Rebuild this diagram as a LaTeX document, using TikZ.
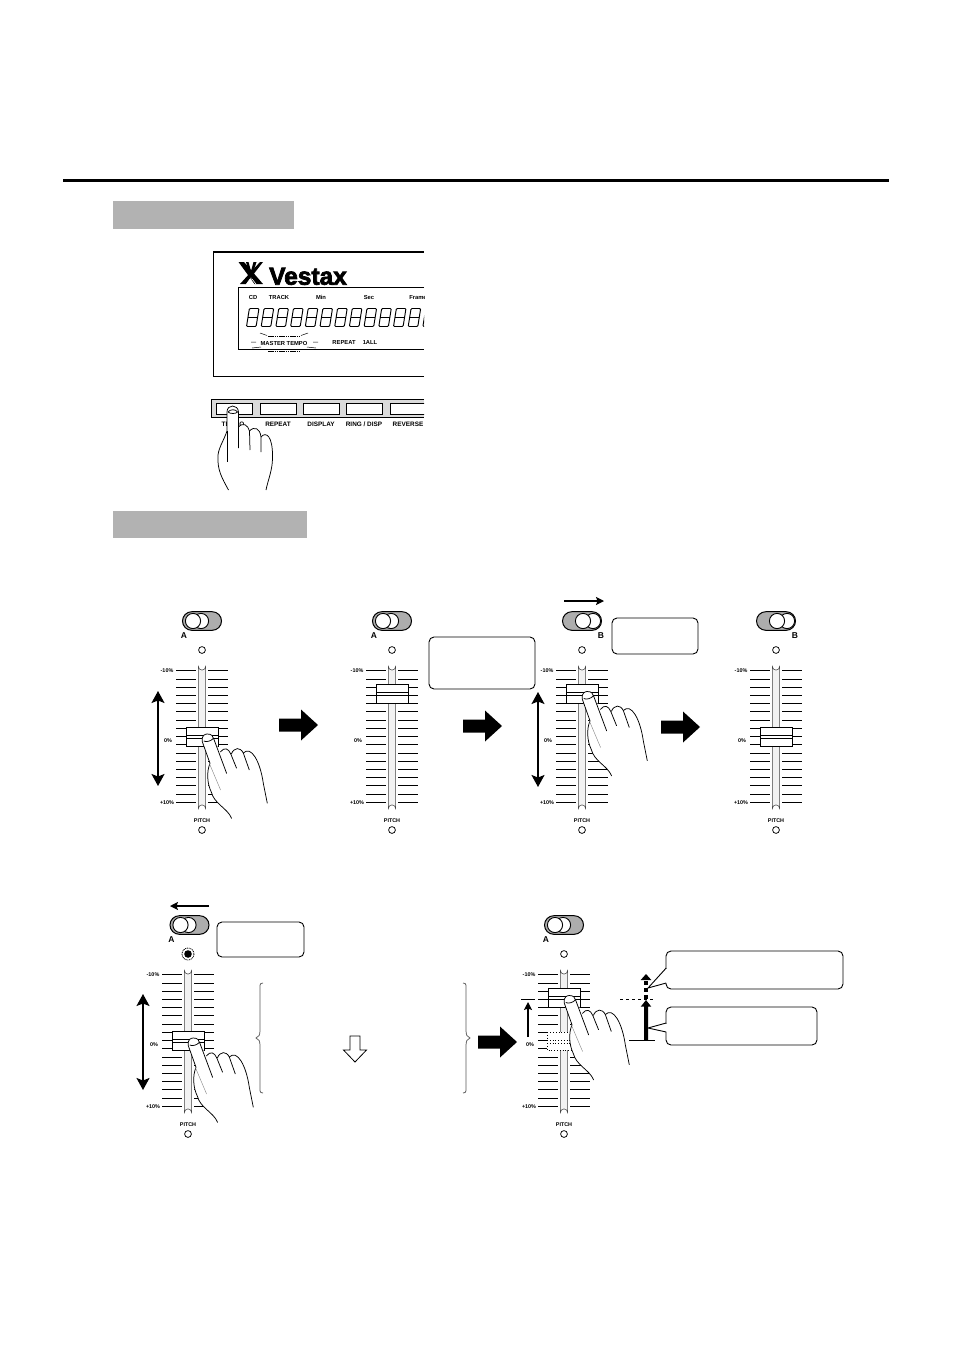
\documentclass[tikz,border=0pt]{standalone}
\usepackage{fontspec}
\setmainfont{Liberation Sans}
\newfontfamily\logofont[BoldFeatures={FakeBold=3}]{Liberation Sans}
\usetikzlibrary{arrows.meta,shapes.arrows}
\definecolor{barg}{gray}{0.70}
\definecolor{slotg}{gray}{0.95}
\definecolor{stripg}{gray}{0.86}
\definecolor{pillg}{gray}{0.68}
\tikzset{
  tiny label/.style={font=\bfseries\fontsize{5.4}{6}\selectfont,inner sep=0pt},
  panel label/.style={font=\bfseries\fontsize{5.8}{7}\selectfont,inner sep=0pt,anchor=base},
  button label/.style={font=\bfseries\fontsize{6.4}{7}\selectfont,inner sep=0pt,anchor=base},
  callout/.style={draw=black,line width=0.9pt,rounded corners=5pt,fill=white},
  hairline/.style={line width=0.75pt},
  tick/.style={line width=0.8pt},
  bigarrow/.style={fill=black},
  movearrow/.style={line width=1.4pt,-{Stealth[length=8pt,width=8pt,inset=1.5pt]}},
  bothways/.style={line width=1.5pt,{Stealth[length=12pt,width=13pt,inset=2.5pt]}-{Stealth[length=12pt,width=13pt,inset=2.5pt]}},
}
% block arrow pointing right, tail x, centre y
\newcommand{\blockarrow}[2]{%
  \fill[bigarrow,shift={(#1,#2)}] (0,-6.5) -- (22,-6.5) -- (22,-15.5) -- (39,0) -- (22,15.5) -- (22,6.5) -- (0,6.5) -- cycle;}
% pressing hand on a slider knob
\newcommand{\sliderhand}[2]{%
  \begin{scope}[shift={(#1,#2)}]
    \fill[white] (24.3,84.3) .. controls (20,74) and (7,70) .. (4,58) .. controls (0,50) and (-1,38) .. (2.7,29.3)
      -- (-5,7.7) .. controls (-6,1) and (-2,0) .. (0,0) .. controls (4,0) and (6,2) .. (6.5,5)
      -- (13,18) .. controls (17,13) and (21,14) .. (24,20) .. controls (27,13) and (33,13) .. (36,19)
      .. controls (44,11) and (53,28) .. (56,49.3) -- (60,69.3) -- cycle;
    \draw[hairline,line cap=round] (24.3,84.3) .. controls (20,74) and (7,70) .. (4,58) .. controls (0,50) and (-1,38) .. (2.7,29.3)
      -- (-5,7.7) .. controls (-6,1) and (-2,0) .. (0,0) .. controls (4,0) and (6,2) .. (6.5,5) -- (19.3,39.3);
    \draw[hairline] (-3.5,7) .. controls (-1,8.5) and (4,7) .. (6.2,4.2);
    \draw[hairline] (13,18) .. controls (17,13) and (21,14) .. (23.5,20) -- (29.3,34.3);
    \draw[hairline] (24,20) .. controls (27,13) and (33,13) .. (36,19) -- (42,36);
    \draw[hairline] (36,19) .. controls (44,11) and (53,28) .. (56,49.3) -- (60,69.3);
    \draw[gray,line width=0.4pt] (2,29.3) -- (13.3,56);
  \end{scope}}
% slider: centre x, row shift y, knob centre y
\newcommand{\sliderbody}[3]{%
  \begin{scope}[shift={(#1,#2)}]
    \foreach \i in {0,...,16} {
      \draw[tick] (-26,670.7+\i*8.22) -- (-6,670.7+\i*8.22);
      \draw[tick] (6,670.7+\i*8.22) -- (26,670.7+\i*8.22);
    }
    \draw[line width=0.5pt,draw=black!75,fill=slotg] (-3.6,666.5) arc[start angle=180,end angle=0,radius=3.6] -- (3.6,808.5) arc[start angle=0,end angle=-180,radius=3.6] -- cycle;
    \node[tiny label] at (-35,670.7) {-10\%};
    \node[tiny label] at (-34,741) {0\%};
    \node[tiny label] at (-35,802.5) {+10\%};
    \node[tiny label] at (0,821) {PITCH};
    \draw[hairline,fill=white] (0,830) circle[radius=3.4];
  \end{scope}
  \draw[hairline,fill=white] (#1-16,#3-9.5) rectangle (#1+16,#3+9.5);
  \draw[hairline] (#1-16,#3-1.4) -- (#1+16,#3-1.4) (#1-16,#3+1.4) -- (#1+16,#3+1.4);}
% switch: centre x, centre y, letter, letter dx, circle 1 dx, circle 2 dx
\newcommand{\slideswitch}[6]{%
  \begin{scope}[shift={(#1,#2)}]
    \draw[line width=1pt,fill=pillg,rounded corners=9.3pt] (-19.5,-9.3) rectangle (19.5,9.3);
    \draw[line width=0.9pt,fill=white] (#6,0) circle[radius=7.6];
    \draw[line width=0.9pt,fill=white] (#5,0) circle[radius=7.6];
    \node[font=\bfseries\fontsize{8.5}{9}\selectfont,inner sep=0pt] at (#4,15) {#3};
  \end{scope}}
% one figure of the display
\newcommand{\sevenseg}[1]{%
  \begin{scope}[shift={(#1,326.5)},xslant=0.16]
    \draw[line width=0.95pt,rounded corners=1pt] (1,0) rectangle (10.6,-18);
    \draw[line width=0.95pt] (1,-9) -- (10.6,-9);
  \end{scope}}
\begin{document}
\begin{tikzpicture}[x=1pt,y=-1pt]
\useasboundingbox (0,0) rectangle (954,1351);
% header
\draw[line width=3pt] (63,181) -- (889,181);
\fill[barg] (113,201) rectangle (294,229);
\fill[barg] (113,511) rectangle (307,538);
% display panel
\begin{scope}
  \clip (205,245) rectangle (424,440);
  \draw[line width=0.9pt] (424,376) -- (213,376) -- (213,252);
  \draw[line width=1.5pt] (213,252) -- (424,252);
  \draw[line width=0.8pt] (424,287) -- (238,287) -- (238,349) -- (424,349);
  % logo
  \fill (238.5,262) -- (244,262) -- (263,284) -- (254.5,284) -- cycle;
  \fill (263,262) -- (260,262) -- (240,284) -- (246,284) -- cycle;
  \fill (246,262) -- (248.5,262) -- (251,271) -- (253.5,262) -- (256.5,262) -- (252,276) -- (250,276) -- cycle;
  \draw[white,line width=0.6pt] (251,284) -- (251,277.5) (246.5,284) -- (250,279) (256,284) -- (252,279);
  \node[font=\logofont\bfseries\fontsize{24.5}{26}\selectfont,inner sep=0pt,anchor=base west] (logo) at (269,284.7) {Vestax};
  \node[panel label] (cd) at (253,299) {CD};
  \node[panel label] (track) at (279,299) {TRACK};
  \node[panel label] (min) at (321,299) {Min};
  \node[panel label] (sec) at (369,299) {Sec};
  \node[panel label] (frame) at (418,299) {Frame};
  \foreach \k in {0,...,12} { \sevenseg{245.5+\k*14.7} }
  \node[panel label] (mt) at (284,345) {MASTER TEMPO};
  \node[panel label] (rpt) at (344,344) {REPEAT};
  \node[panel label] (all) at (370,344) {1ALL};
  \draw[line width=0.5pt,dash pattern=on 1.5pt off 0.7pt] (268,336) -- (300,336);
  \draw[line width=0.5pt,dash pattern=on 1.5pt off 0.7pt] (268,351) -- (300,351);
  \draw[line width=0.5pt] (260,333) -- (267,335.5) (301,335.5) -- (308,333) (251,342) -- (256,342) (313,342) -- (318,342) (252,348) -- (261,347) (307,347) -- (316,348);
  % button strip
  \draw[line width=0.8pt,fill=stripg] (424,399) -- (211,399) -- (211,417) -- (424,417);
  \foreach \a/\b in {216/252,260/296,303/339,346/382,390/430} {
    \draw[line width=0.8pt,fill=white] (\a,403) rectangle (\b,414);
  }
  \node[button label] (l1) at (233,426.5) {TEMPO};
  \node[button label] (l2) at (278,426.5) {REPEAT};
  \node[button label] (l3) at (321,426.5) {DISPLAY};
  \node[button label] (l4) at (364,426.5) {RING / DISP};
  \node[button label] (l5) at (408,426.5) {REVERSE};
\end{scope}
% pressing hand, top
\begin{scope}
  \fill[white] (228,490) .. controls (222,478) and (217,470) .. (218,455) .. controls (219,447) and (224,440) .. (227,431) -- (227,412) .. controls (227,404) and (238,404) .. (238.5,412) -- (238.5,427) .. controls (243,422) and (248,425) .. (249.5,431) .. controls (254,426) and (260,428) .. (261,437) .. controls (266,431) and (273,436) .. (273,458) .. controls (273,470) and (268,480) .. (266,490) -- cycle;
  \draw[hairline] (228.5,490) .. controls (222,478) and (217,470) .. (218,455) .. controls (219,447) and (224,440) .. (227,431) -- (227,412) .. controls (227,404) and (238,404) .. (238.5,412) -- (238.5,448);
  \draw[hairline] (228,412) .. controls (230,409) and (236,409) .. (237.5,412) .. controls (236,414) and (230,414) .. (228,412);
  \draw[hairline] (227,431) -- (227,462);
  \draw[hairline] (238.5,427) .. controls (243,422) and (248,425) .. (249.5,431) -- (250,450);
  \draw[hairline] (249.5,431) .. controls (254,426) and (260,428) .. (261,437) -- (261,452);
  \draw[hairline] (261,437) .. controls (266,431) and (273,436) .. (272.5,458) .. controls (272.5,470) and (268,480) .. (266,490);
\end{scope}
% row 1
\slideswitch{202}{621}{A}{-18}{-9}{-1}
\draw[hairline,fill=white] (202,650) circle[radius=3.4];
\sliderbody{202}{0}{736.5}
\sliderhand{207.3}{734}
\draw[bothways] (158,691) -- (158,786);
\blockarrow{279}{725}

\slideswitch{392}{621}{A}{-18}{-9}{-1}
\draw[hairline,fill=white] (392,650) circle[radius=3.4];
\sliderbody{392}{0}{694}
\draw[callout] (429,637) rectangle (535,689);
\blockarrow{463}{726}

\slideswitch{582}{621}{B}{19}{1}{11}
\draw[hairline,fill=white] (582,650) circle[radius=3.4];
\sliderbody{582}{0}{694}
\sliderhand{587.3}{691.5}
\draw[movearrow] (564,601) -- (604,601);
\draw[callout] (612,618) rectangle (698,654);
\draw[bothways] (538,692) -- (538,787);
\blockarrow{661}{727}

\slideswitch{776}{621}{B}{19}{1}{11}
\draw[hairline,fill=white] (776,650) circle[radius=3.4];
\sliderbody{776}{0}{737}
% row 2
\slideswitch{189.5}{925}{A}{-18}{-9}{-1}
\draw[line width=0.8pt,dash pattern=on 1pt off 0.8pt] (188,954) circle[radius=6];
\fill (188,954) circle[radius=3.8];
\sliderbody{188}{304}{1040.5}
\sliderhand{193.3}{1038}
\draw[movearrow] (209,906) -- (170,906);
\draw[callout] (217,922) rectangle (304,957);
\draw[bothways] (143,994) -- (143,1090);
% braces and hollow arrow
\draw[hairline,gray!70!black] (263,983) .. controls (259,983) and (260,986) .. (260,992) -- (260,1030) .. controls (260,1035) and (259,1037) .. (256,1038) .. controls (259,1039) and (260,1041) .. (260,1046) -- (260,1084) .. controls (260,1090) and (259,1093) .. (263,1093);
\draw[hairline,gray!70!black] (463,983) .. controls (467,983) and (466,986) .. (466,992) -- (466,1030) .. controls (466,1035) and (467,1037) .. (470,1038) .. controls (467,1039) and (466,1041) .. (466,1046) -- (466,1084) .. controls (466,1090) and (467,1093) .. (463,1093);
\draw[line width=0.8pt,fill=white] (350,1036) -- (360,1036) -- (360,1050) -- (366.5,1050) -- (355,1062) -- (343.5,1050) -- (350,1050) -- cycle;
\blockarrow{478}{1042}
% row 2, right slider
\slideswitch{564}{925}{A}{-18}{-9}{-1}
\draw[hairline,fill=white] (564,954) circle[radius=3.4];
\sliderbody{564}{304}{997.5}
\draw[line width=0.8pt,dotted,fill=white] (547,1032) rectangle (580,1050);
\draw[line width=0.8pt,dotted] (547,1040) -- (580,1040) (547,1043) -- (580,1043);
\sliderhand{569.3}{995.5}
\draw[tick] (521,999) -- (535,999);
\draw[movearrow,line width=1.3pt] (528,1037) -- (528,1002);
\draw[line width=0.8pt] (629,1040) -- (655,1040);
\draw[line width=0.8pt,dashed] (620,999.5) -- (655,999.5);
\fill (644,1040) -- (644,1006.7) -- (640.7,1006.7) -- (646,1000) -- (651.3,1006.7) -- (648,1006.7) -- (648,1040) -- cycle;
\foreach \ya in {981,988,995} { \fill (644,\ya) rectangle (648,\ya+4); }
\fill (646,974) -- (651.3,980) -- (640.7,980) -- cycle;
\draw[callout] (666,951) rectangle (843,989);
\fill[white] (665,968.5) rectangle (668,982.5);
\draw[line width=0.9pt] (666.2,968) -- (648,988) -- (666.2,983);
\draw[callout] (666,1007) rectangle (817,1045);
\fill[white] (665,1023.5) rectangle (668,1031.5);
\draw[line width=0.9pt] (666.2,1023) -- (648,1028) -- (666.2,1032);
\end{tikzpicture}
\end{document}
